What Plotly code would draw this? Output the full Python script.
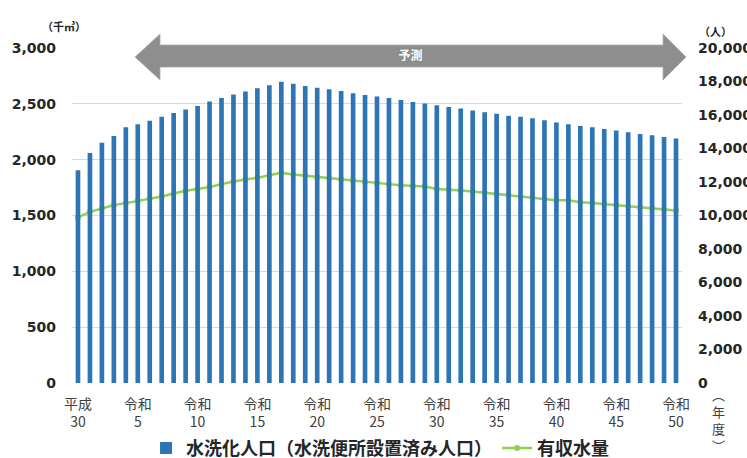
import plotly.graph_objects as go

# categories: 平成30 (index 0) ... 令和50 (index 50)
years = ["平成30", "令和元"] + [f"令和{i}" for i in range(2, 51)]
tick_idx = [0, 5, 10, 15, 20, 25, 30, 35, 40, 45, 50]
tick_text = ["平成<br>30", "令和<br>5", "令和<br>10", "令和<br>15", "令和<br>20", "令和<br>25",
             "令和<br>30", "令和<br>35", "令和<br>40", "令和<br>45", "令和<br>50"]

# 水洗化人口 (人) — right axis
population = [12700, 13730, 14350, 14750, 15270, 15450, 15650, 15890, 16120, 16330,
              16540, 16800, 17020, 17220, 17410, 17590, 17780, 17990, 17870, 17730,
              17630, 17530, 17430, 17300, 17200, 17100, 17020, 16900, 16780, 16680,
              16580, 16480, 16390, 16270, 16170, 16070, 15950, 15890, 15810, 15690,
              15550, 15450, 15350, 15270, 15170, 15070, 14970, 14870, 14790, 14690,
              14590]

# 有収水量 (千㎥) — left axis
water = [1483, 1533, 1563, 1593, 1611, 1631, 1653, 1670, 1697, 1721,
         1738, 1756, 1781, 1805, 1822, 1837, 1861, 1882, 1867, 1858,
         1843, 1834, 1825, 1814, 1801, 1792, 1781, 1772, 1763, 1760,
         1738, 1733, 1724, 1715, 1703, 1691, 1682, 1673, 1661, 1649,
         1637, 1637, 1619, 1611, 1602, 1593, 1584, 1575, 1566, 1557,
         1545]

left_ticks = [0, 500, 1000, 1500, 2000, 2500, 3000]
right_ticks = list(range(0, 20001, 2000))

x_idx = list(range(len(years)))

JP = "Noto Sans CJK JP"
NUM = "DejaVu Sans"

fig = go.Figure()
fig.add_trace(go.Bar(
    x=x_idx, y=population, yaxis="y2", name="水洗化人口（水洗便所設置済み人口）",
    marker=dict(color="#2e75b6", line=dict(width=0)),
    hovertext=years,
))
fig.add_trace(go.Scatter(
    x=x_idx, y=water, yaxis="y", name="有収水量", mode="lines+markers",
    line=dict(color="#92d050", width=2.5),
    marker=dict(color="#92d050", size=6),
    hovertext=years,
))

# forecast double arrow (decoration, paper coords)
arrow = ("M 0.1033 0.973 L 0.1443 1.0418 L 0.1443 1.009 L 0.9689 1.009 L 0.9689 1.0418 "
         "L 1.0066 0.973 L 0.9689 0.9045 L 0.9689 0.943 L 0.1443 0.943 L 0.1443 0.9045 Z")
fig.add_shape(type="path", path=arrow, xref="paper", yref="paper",
              fillcolor="#8e8e8e", line=dict(color="#b0b0b0", width=0.8), layer="above",
              label=dict(text="<b>予測</b>", textposition="middle center",
                         font=dict(family=JP, size=12, color="white")))

fig.add_annotation(text="<b>（千㎥）</b>", x=-0.052, y=1.095, xref="paper", yref="paper",
                   showarrow=False, font=dict(family=JP, size=11, color="#262626"))
fig.add_annotation(text="<b>（人）</b>", x=1.085, y=1.08, xref="paper", yref="paper",
                   showarrow=False, font=dict(family=JP, size=11, color="#262626"))
fig.add_annotation(text="︵<br>年<br>度<br>︶", x=1.074, y=-0.11, xref="paper", yref="paper",
                   showarrow=False, font=dict(family=JP, size=13, color="#404040"),
                   yanchor="middle")

fig.update_layout(
    width=747, height=458,
    margin=dict(l=72, r=65, t=48, b=75, autoexpand=False),
    paper_bgcolor="white", plot_bgcolor="white",
    bargap=0.61,
    showlegend=True,
    legend=dict(orientation="h", x=0.505, xanchor="center", y=-0.195, yanchor="middle",
                font=dict(family=JP, size=18, color="#262626", weight="bold"),
                itemwidth=30, tracegroupgap=0, bgcolor="rgba(0,0,0,0)"),
    xaxis=dict(range=[-0.5, len(years) - 0.5], tickmode="array", tickvals=tick_idx,
               ticktext=tick_text, showgrid=False, zeroline=False, showline=False,
               ticks="", ticklabelstandoff=11,
               tickfont=dict(family=JP, size=14, color="#404040")),
    yaxis=dict(range=[0, 3000], tickmode="array", tickvals=left_ticks,
               tickformat=",d", showgrid=True, gridcolor="#d9d9d9", gridwidth=1,
               zeroline=False, showline=False, ticks="", ticklabelstandoff=15,
               tickfont=dict(family=NUM, size=14, color="#262626", weight="bold")),
    yaxis2=dict(range=[0, 20000], tickmode="array", tickvals=right_ticks,
                tickformat=",d", overlaying="y", side="right", showgrid=False,
                zeroline=False, showline=False, ticks="", ticklabelstandoff=15,
                tickfont=dict(family=NUM, size=14, color="#262626", weight="bold")),
)

fig.write_html("out.html")
